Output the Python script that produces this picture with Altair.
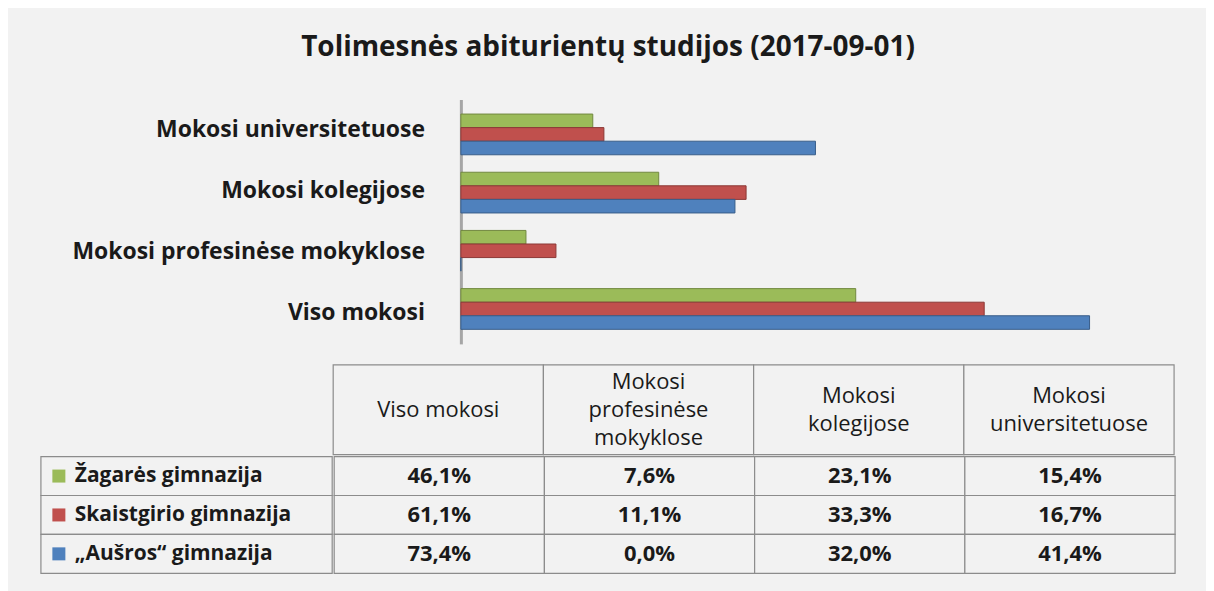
import altair as alt
import pandas as pd

title_text = "Tolimesnės abiturientų studijos (2017-09-01)"
categories = ["Viso mokosi", "Mokosi profesinėse mokyklose", "Mokosi kolegijose", "Mokosi universitetuose"]
header_labels = ["Viso mokosi", "Mokosi\nprofesinėse\nmokyklose", "Mokosi\nkolegijose", "Mokosi\nuniversitetuose"]
schools = ["Žagarės gimnazija", "Skaistgirio gimnazija", "„Aušros“ gimnazija"]
zagare = [46.1, 7.6, 23.1, 15.4]
skaistgirio = [61.1, 11.1, 33.3, 16.7]
ausros = [73.4, 0.0, 32.0, 41.4]
colors = ["#9bbb59", "#c0504d", "#4f81bd"]
edge_colors = ["#71893f", "#8c3836", "#385d8a"]

FONT = "Open Sans"
TXT = "#1a1a1a"
GRID = "#8c8c8c"
BG = "#f2f2f2"
LINE_H = 28

rows = []
for school, vals in zip(schools, [zagare, skaistgirio, ausros]):
    for cat, v in zip(categories, vals):
        rows.append({"school": school, "category": cat, "value": v,
                     "label": f"{v:.1f}%".replace(".", ",")})
df = pd.DataFrame(rows)

bar_order = categories[::-1]
color_scale = alt.Scale(domain=schools, range=colors)
stroke_scale = alt.Scale(domain=schools, range=edge_colors)
cat_scale = alt.Scale(domain=bar_order, paddingInner=0.3, paddingOuter=0.25)

# category labels (left of the bars)
cdf = pd.DataFrame({"category": categories})
cat_labels = alt.Chart(cdf).mark_text(
    align="right", dx=175, font=FONT, fontSize=23, fontWeight="bold", color=TXT
).encode(
    y=alt.Y("category:N", sort=bar_order, scale=cat_scale, axis=None),
    text="category:N",
).properties(width=420, height=245)

bars = alt.Chart(df).mark_bar(strokeWidth=1).encode(
    x=alt.X("value:Q", scale=alt.Scale(domain=[0, 75]), axis=None),
    y=alt.Y("category:N", sort=bar_order, scale=cat_scale,
            axis=alt.Axis(title=None, labels=False, ticks=False,
                          domainColor="#a6a6a6", domainWidth=3)),
    yOffset=alt.YOffset("school:N", sort=schools),
    color=alt.Color("school:N", scale=color_scale, legend=None),
    stroke=alt.Stroke("school:N", scale=stroke_scale, legend=None),
).properties(width=644, height=245)

bar_row = alt.hconcat(cat_labels, bars, spacing=0)

col_scale = alt.Scale(domain=categories, paddingInner=0, paddingOuter=0)
row_scale = alt.Scale(domain=schools, paddingInner=0, paddingOuter=0)

# header row
hdf = pd.DataFrame({"column": categories, "header": header_labels,
                    "nlines": [h.count("\n") + 1 for h in header_labels]})
col_x = alt.X("column:N", sort=categories, axis=None, scale=col_scale)
header_layers = [alt.Chart(hdf).mark_rect(fill=BG, stroke=GRID, strokeWidth=1.2).encode(x=col_x)]
for n in sorted(set(hdf["nlines"])):
    header_layers.append(
        alt.Chart(hdf).transform_filter(alt.datum.nlines == n).mark_text(
            lineBreak="\n", font=FONT, fontSize=22, fontWeight=500, color=TXT,
            lineHeight=LINE_H, dy=-(n - 1) * LINE_H / 2).encode(x=col_x, text="header:N"))
header = alt.layer(*header_layers).properties(width=843, height=90)

blank = alt.Chart(pd.DataFrame({"school": schools[:1]})).mark_rect(opacity=0).encode(
    y=alt.Y("school:N", axis=None)).properties(width=292, height=90)

# body rows
ldf = pd.DataFrame({"school": schools})
row_y = alt.Y("school:N", sort=schools, axis=None, scale=row_scale)
leg_cells = alt.Chart(ldf).mark_rect(fill=BG, stroke=GRID, strokeWidth=1.2).encode(y=row_y)
leg_sw = alt.Chart(ldf).mark_square(size=170, opacity=1, xOffset=-128).encode(
    y=row_y, color=alt.Color("school:N", scale=color_scale, legend=None))
leg_text = alt.Chart(ldf).mark_text(align="left", dx=-112, font=FONT, fontSize=21,
                                    fontWeight="bold", color=TXT).encode(y=row_y, text="school:N")
legend = alt.layer(leg_cells, leg_sw, leg_text).properties(width=292, height=117)

cat_x = alt.X("category:N", sort=categories, axis=None, scale=col_scale)
val_cells = alt.Chart(df).mark_rect(fill=BG, stroke=GRID, strokeWidth=1.2).encode(x=cat_x, y=row_y)
val_text = alt.Chart(df).mark_text(font=FONT, fontSize=22, fontWeight="bold", color=TXT).encode(
    x=cat_x, y=row_y, text="label:N")
values = alt.layer(val_cells, val_text).properties(width=843, height=117)

header_row = alt.hconcat(blank, header, spacing=0)
body_row = alt.hconcat(legend, values, spacing=0)
table = alt.vconcat(header_row, body_row, spacing=0)

chart = alt.vconcat(bar_row, table, spacing=20).properties(
    title=alt.TitleParams(text=title_text, font=FONT, fontSize=28, fontWeight="bold",
                          color=TXT, anchor="middle", offset=38),
    padding={"left": 32, "top": 25, "right": 30, "bottom": 16},
    background=BG,
).configure_view(strokeWidth=0)

chart.save("out.html", embed_options={"renderer": "svg", "actions": False})
